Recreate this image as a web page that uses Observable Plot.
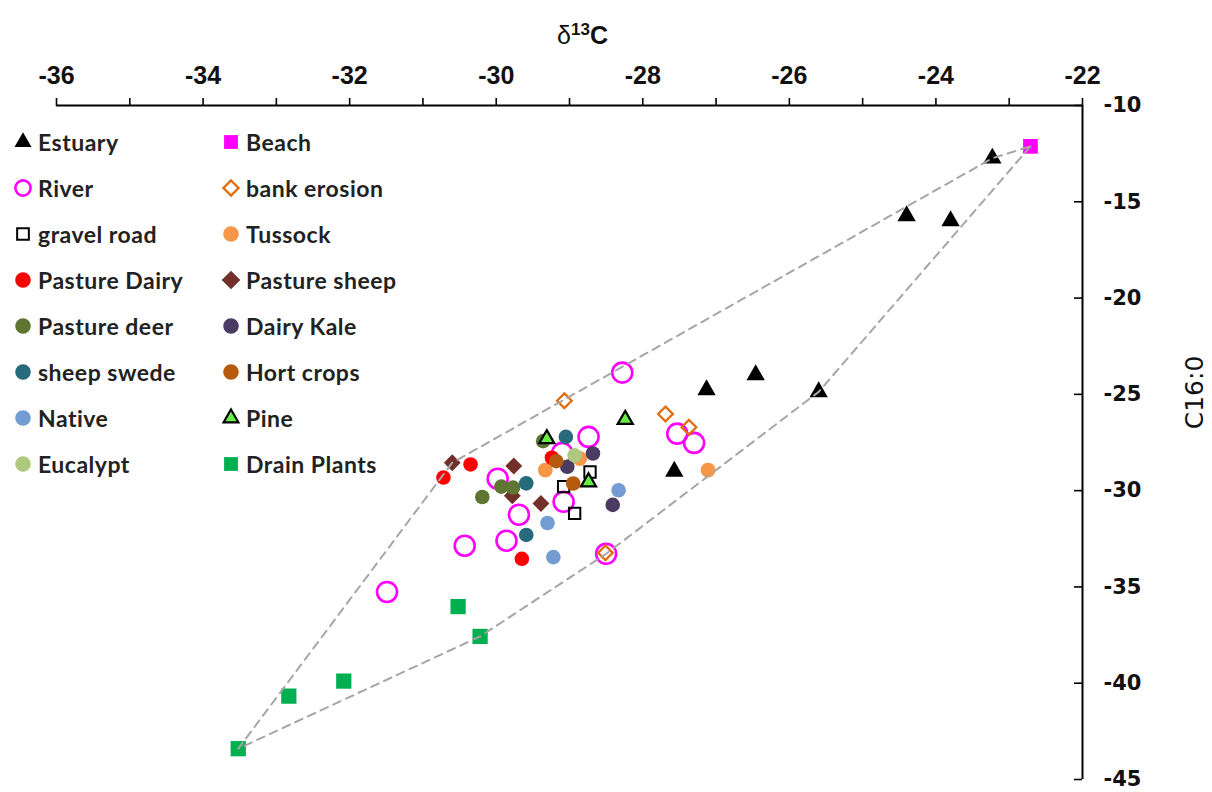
<!DOCTYPE html>
<html>
<head>
<meta charset="utf-8">
<script src="https://cdn.jsdelivr.net/npm/d3@7"></script>
<script src="https://cdn.jsdelivr.net/npm/@observablehq/plot@0.6"></script>
<style>
  body { margin: 0; background: #fff; }
  #wrap { position: relative; width: 1212px; height: 792px; overflow: hidden; }
  #legend { position: absolute; left: 0; top: 0; font-family: Lato, "Open Sans", sans-serif; font-weight: 700; font-size: 23px; color: #222; letter-spacing: 0.5px; }
  .item { position: absolute; height: 30px; display: flex; align-items: center; white-space: nowrap; }
</style>
</head>
<body>
<div id="wrap"><div id="legend"></div></div>
<script>
// ---- Data (δ13C, C16:0) ----
const estuary      = [[-23.23,-12.74],[-24.40,-15.73],[-23.80,-15.99],[-26.46,-23.99],[-27.13,-24.77],[-25.60,-24.87],[-27.57,-29.00]];
const beach        = [[-22.71,-12.12]];
const river        = [[-28.28,-23.87],[-28.74,-27.21],[-27.53,-27.04],[-27.30,-27.52],[-29.98,-29.38],[-29.08,-30.58],[-29.69,-31.25],[-29.86,-32.60],[-30.43,-32.86],[-28.50,-33.28],[-29.10,-28.04],[-31.49,-35.26]];
const bankErosion  = [[-29.07,-25.33],[-27.69,-26.02],[-27.37,-26.71],[-28.51,-33.23]];
const gravelRoad   = [[-28.72,-29.03],[-29.08,-29.79],[-28.93,-31.18]];
const tussock      = [[-27.11,-28.93],[-29.33,-28.93],[-28.86,-28.33]];
const pastureDairy = [[-30.72,-29.32],[-30.35,-28.64],[-29.24,-28.29],[-29.65,-33.54]];
const pastureSheep = [[-30.60,-28.55],[-29.76,-28.72],[-29.78,-30.27],[-29.39,-30.67]];
const pastureDeer  = [[-30.19,-30.33],[-29.93,-29.79],[-29.77,-29.84],[-29.36,-27.43]];
const dairyKale    = [[-28.68,-28.07],[-29.03,-28.76],[-28.41,-30.74]];
const sheepSwede   = [[-29.05,-27.21],[-29.59,-29.62],[-29.59,-32.30]];
const hortCrops    = [[-29.18,-28.47],[-28.95,-29.63]];
const native       = [[-28.33,-29.98],[-29.30,-31.68],[-29.22,-33.45]];
const pine         = [[-29.31,-27.31],[-28.24,-26.31],[-28.74,-29.55]];
const eucalypt     = [[-28.93,-28.17]];
const drainPlants  = [[-33.52,-43.40],[-32.83,-40.67],[-32.08,-39.89],[-30.52,-36.02],[-30.22,-37.57]];

const xTicks = d3.range(-36, -21, 1);
const yTicks = [-45, -40, -35, -30, -25, -20, -15, -10];
const xTitle = "δ13C";
const yTitle = "C16:0";

// series in legend / drawing order
const series = [
  {name: "Estuary",       data: estuary,      symbol: "triangle", fill: "#000000", stroke: "none",    sw: 0,   r: 6.8, lr: 6.3},
  {name: "Beach",         data: beach,        symbol: "square",   fill: "#FF00FF", stroke: "none",    sw: 0,   r: 8.3, lr: 7.8},
  {name: "River",         data: river,        symbol: "circle",   fill: "none",    stroke: "#FF00FF", sw: 2.6, r: 10,  lr: 7.6},
  {name: "bank erosion",  data: bankErosion,  symbol: "diamond2", fill: "none",    stroke: "#E46C0A", sw: 2.3, r: 6.6, lr: 6.8},
  {name: "gravel road",   data: gravelRoad,   symbol: "square",   fill: "none",    stroke: "#000000", sw: 2,   r: 6.4, lr: 6.6},
  {name: "Tussock",       data: tussock,      symbol: "circle",   fill: "#F79646", stroke: "none",    sw: 0,   r: 7.4, lr: 7.8},
  {name: "Pasture Dairy", data: pastureDairy, symbol: "circle",   fill: "#FF0000", stroke: "none",    sw: 0,   r: 7.3, lr: 7.8},
  {name: "Pasture sheep", data: pastureSheep, symbol: "diamond2", fill: "#73302B", stroke: "none",    sw: 0,   r: 7.6, lr: 8.4},
  {name: "Pasture deer",  data: pastureDeer,  symbol: "circle",   fill: "#5F7532", stroke: "none",    sw: 0,   r: 7.3, lr: 7.8},
  {name: "Dairy Kale",    data: dairyKale,    symbol: "circle",   fill: "#4B3B62", stroke: "none",    sw: 0,   r: 7.3, lr: 7.8},
  {name: "sheep swede",   data: sheepSwede,   symbol: "circle",   fill: "#266A7C", stroke: "none",    sw: 0,   r: 7.3, lr: 7.8},
  {name: "Hort crops",    data: hortCrops,    symbol: "circle",   fill: "#B65A0E", stroke: "none",    sw: 0,   r: 7.3, lr: 7.8},
  {name: "Native",        data: native,       symbol: "circle",   fill: "#729CD2", stroke: "none",    sw: 0,   r: 7.3, lr: 7.8},
  {name: "Pine",          data: pine,         symbol: "triangle", fill: "#66EE44", stroke: "#000000", sw: 2.2, r: 5.6, lr: 5.5},
  {name: "Eucalypt",      data: eucalypt,     symbol: "circle",   fill: "#ADC87F", stroke: "none",    sw: 0,   r: 7.3, lr: 7.8},
  {name: "Drain Plants",  data: drainPlants,  symbol: "square",   fill: "#00B050", stroke: "none",    sw: 0,   r: 8.6, lr: 7.8}
];

// envelope around all samples
const allPts = series.flatMap(s => s.data);
const hull = d3.polygonHull(allPts);
const hullClosed = [...hull, hull[0]];

const W = 1212, H = 792;
const mTop = 105, mBottom = 13, mLeft = 56, mRight = 130;
const plotW = W - mLeft - mRight;

const chart = Plot.plot({
  width: W,
  height: H,
  marginTop: mTop,
  marginBottom: mBottom,
  marginLeft: mLeft,
  marginRight: mRight,
  style: {background: "#fff", overflow: "visible"},
  x: {domain: [-36, -22]},
  y: {domain: [-45, -10]},
  marks: [
    Plot.axisX(xTicks, {
      anchor: "top", tickSize: 8, tickPadding: 14, strokeWidth: 1.6,
      tickFormat: d => (d % 2 === 0 ? String(d) : ""),
      fontSize: 25, fontWeight: "bold", fontFamily: "Liberation Sans, Arial, sans-serif",
      fill: "#111", label: null
    }),
    Plot.axisY(yTicks, {
      anchor: "right", tickSize: 0, tickPadding: 21,
      tickFormat: d => String(d),
      fontSize: 21, fontWeight: "bold", fontFamily: "DejaVu Sans, sans-serif",
      fill: "#111", label: null
    }),
    Plot.tickY(yTicks, {y: d => d, insetLeft: plotW - 8, stroke: "#000", strokeWidth: 1.6}),
    Plot.ruleY([-10], {stroke: "#000", strokeWidth: 2}),
    Plot.ruleX([-22], {stroke: "#000", strokeWidth: 2}),
    ...series.map(s => Plot.dot(s.data, {
      x: d => d[0], y: d => d[1],
      symbol: s.symbol, r: s.r,
      fill: s.fill, stroke: s.stroke, strokeWidth: s.sw
    })),
    Plot.line(hullClosed, {
      x: d => d[0], y: d => d[1],
      stroke: "#A6A6A6", strokeWidth: 2, strokeDasharray: "8,6", curve: "linear-closed"
    }),
    Plot.text([xTitle], {
      text: d => d, frameAnchor: "top", textAnchor: "middle", lineAnchor: "middle", dx: 13, dy: -70,
      fontSize: 25, fontWeight: "bold", fontFamily: "Liberation Sans, Arial, sans-serif",
      fill: "#111"
    }),
    Plot.text([yTitle], {
      text: d => d, frameAnchor: "right", textAnchor: "middle", lineAnchor: "middle", dx: 112, dy: -50, rotate: -90,
      fontSize: 25, fontFamily: "DejaVu Sans, sans-serif",
      fill: "#111"
    })
  ]
});

document.getElementById("wrap").prepend(chart);

// superscript for δ13C
d3.select(chart).selectAll("text").filter(function() { return this.textContent === xTitle; })
  .html('<tspan font-weight="normal">δ</tspan><tspan dy="-9" font-size="17">13</tspan><tspan dy="9">C</tspan>');

// legend (two columns, row-wise)
const symMap = {triangle: d3.symbolTriangle, square: d3.symbolSquare, circle: d3.symbolCircle, diamond2: d3.symbolDiamond2};
const legend = d3.select("#legend");
series.forEach((s, i) => {
  const col = i % 2, row = Math.floor(i / 2);
  const cx = col === 0 ? 23 : 231;
  const tx = col === 0 ? 38 : 246;
  const cy = 142 + row * 46;
  const item = legend.append("div").attr("class", "item")
    .style("left", tx + "px").style("top", (cy - 15) + "px");
  item.append("span").text(s.name);
  const svg = legend.append("svg")
    .attr("width", 24).attr("height", 24)
    .style("position", "absolute").style("overflow", "visible")
    .style("left", (cx - 12) + "px").style("top", (cy - 12) + "px");
  svg.append("path")
    .attr("transform", "translate(12,12)")
    .attr("d", d3.symbol(symMap[s.symbol], Math.PI * s.lr * s.lr)())
    .attr("fill", s.fill).attr("stroke", s.stroke).attr("stroke-width", s.sw);
});
</script>
</body>
</html>
